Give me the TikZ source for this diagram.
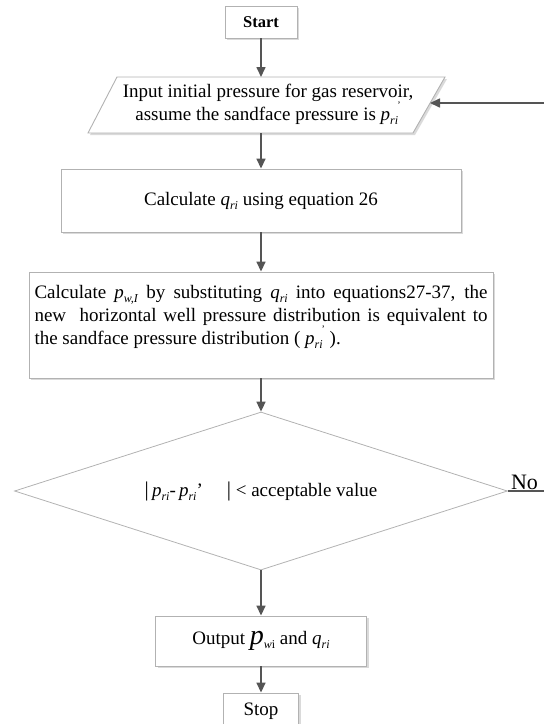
\documentclass[tikz,border=0pt]{standalone}
\usepackage{fontspec}
\setmainfont{Liberation Serif}
\usetikzlibrary{arrows.meta,shapes.geometric,shadows}

\definecolor{boxgray}{RGB}{178,178,178}
\definecolor{shadowgray}{RGB}{218,218,218}
\definecolor{arrowgray}{RGB}{85,85,85}

% small lowered subscript text
\newcommand\lowsub[1]{\raisebox{-0.22em}{\fontsize{12}{12}\selectfont #1}}
% italic variable with italic subscript, and the same with a raised prime
\newcommand\vsub[2]{\textit{#1}\lowsub{\textit{#2}}}
\newcommand\vsubp[2]{\textit{#1}\lowsub{\textit{#2}}\raisebox{0.62em}{\fontsize{10}{10}\selectfont\kern-0.1em’}}

\begin{document}
\begin{tikzpicture}[x=1pt,y=-1pt,
  every node/.style={font=\fontsize{19}{23}\selectfont, text=black},
  box/.style={draw=boxgray, line width=0.9pt, fill=white, inner sep=0pt,
    drop shadow={shadow xshift=2pt, shadow yshift=-2pt, fill=shadowgray, opacity=1}},
  flow/.style={draw=arrowgray, line width=1.6pt, -{Triangle[length=10pt,width=9pt]}},
]
\useasboundingbox (0,0) rectangle (544,724);
\clip (0,0) rectangle (544,724);

% process steps
\node[box, minimum width=72pt, minimum height=32pt,
      font=\bfseries\fontsize{16.5}{20}\selectfont] (start) at (261,22) {Start};

% input step: parallelogram
\coordinate (inTL) at (117,77);
\coordinate (inTR) at (445,77);
\coordinate (inBR) at (413,133);
\coordinate (inBL) at (88,133);
\coordinate (inR) at (430,103);
\path[box] (inTL) -- (inTR) -- (inBR) -- (inBL) -- cycle;
\node[align=center, inner sep=0pt] (in) at (268,104)
  {Input initial pressure for gas reservoir,\\assume the sandface pressure is \vsubp{p}{ri}};

\node[box, minimum width=400pt, minimum height=63pt] (q) at (261,200.5)
  {\raisebox{-4pt}{Calculate \vsub{q}{ri} using equation 26}};

\node[box, minimum width=464pt, minimum height=106pt] (pw) at (261,325) {};
\node[align=left, inner sep=0pt, yshift=8pt] (pwtext) at (pw.center)
  {\makebox[453pt][s]{Calculate \vsub{p}{w,I} by substituting \vsub{q}{ri} into equations27-37, the}\\
   \makebox[453pt][s]{new\ \ horizontal well pressure distribution is equivalent to}\\
   the sandface pressure distribution ( \vsubp{p}{ri}\ ).};

\node[draw=boxgray, line width=0.8pt, diamond, aspect=3.12, inner sep=0pt,
      minimum width=493pt, minimum height=158pt] (dec) at (261,491)
  {{\fontsize{21}{21}\selectfont\textbar}\,\vsub{p}{ri}-\,\vsub{p}{ri}’\hspace{24pt}{\fontsize{21}{21}\selectfont\textbar}\ < acceptable value};

\node[box, minimum width=211pt, minimum height=50pt] (out) at (261,641)
  {Output \textit{\fontsize{28}{28}\selectfont p}\lowsub{\textit{w}i} and \vsub{q}{ri}};

\node[box, minimum width=75pt, minimum height=36pt] (stop) at (261,711) {Stop};

% connectors
\draw[flow] (start) -- (start |- inTL);
\draw[flow] (q |- inBL) -- (q);
\draw[flow] (q) -- (pw);
\draw[flow] (pw) -- (dec);
\draw[flow] (dec) -- (out);
\draw[flow] (out) -- (stop);

% "No" branch looping back to the input step
\coordinate (loopx) at (590,0);
\draw[flow] (dec.east) -- (dec.east -| loopx) |- (inR);
\node[font=\fontsize{22}{22}\selectfont, anchor=south west, inner sep=1pt]
  (no) at ([xshift=2pt]dec.east) {No};
\end{tikzpicture}
\end{document}
